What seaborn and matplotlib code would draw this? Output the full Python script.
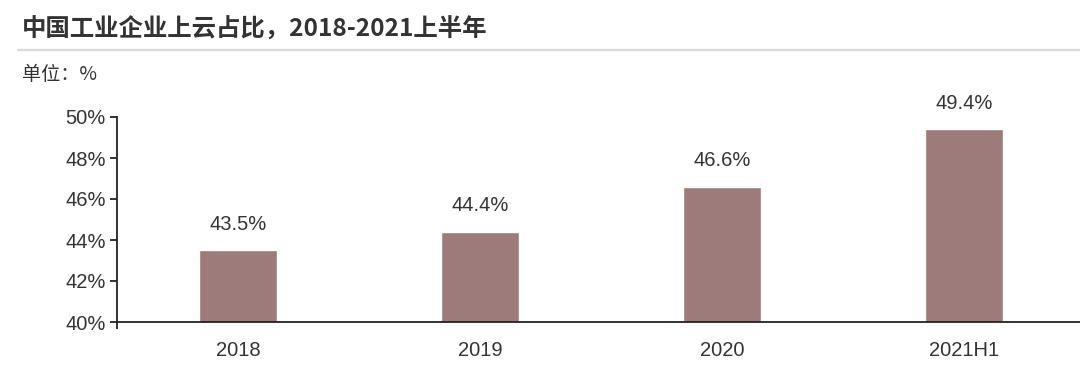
import matplotlib
matplotlib.use("Agg")
import matplotlib.pyplot as plt
import seaborn as sns
import pandas as pd
from matplotlib.ticker import FuncFormatter
from matplotlib.lines import Line2D

categories = ["2018", "2019", "2020", "2021H1"]
values = [43.5, 44.4, 46.6, 49.4]
title = "中国工业企业上云占比，2018-2021上半年"
unit = "单位：%"

sns.set_style("white")
plt.rcParams['font.family'] = ['Liberation Sans', 'Noto Sans CJK SC', 'DejaVu Sans']

df = pd.DataFrame({"year": categories, "share": values})

fig = plt.figure(figsize=(10.8, 3.74), dpi=100)
ax = fig.add_axes([117/1080, 1-322/374, 968/1080, (322-117)/374])
sns.barplot(data=df, x="year", y="share", color="#9d7b7a", saturation=1,
            width=0.32, ax=ax)
ax.set_xlim(-0.5, 3.5)
ax.set_ylim(40, 50)
ax.set_yticks([40, 42, 44, 46, 48, 50])
ax.yaxis.set_major_formatter(FuncFormatter(lambda v, p: f"{v:.0f}%"))
ax.set_xlabel("")
ax.set_ylabel("")
for s in ["top", "right"]:
    ax.spines[s].set_visible(False)
for s in ["left", "bottom"]:
    ax.spines[s].set_color("#222222")
    ax.spines[s].set_linewidth(1.3)
ax.tick_params(axis="y", left=True, length=5, width=1.3, color="#222222",
               labelsize=14.5, labelcolor="#333333", pad=3)
ax.tick_params(axis="x", bottom=False, labelsize=14.5, labelcolor="#333333", pad=10)
ax.set_xticks([-0.5], minor=True)
ax.tick_params(axis="x", which="minor", bottom=True, length=5, width=1.3, color="#222222")

for c in ax.containers:
    ax.bar_label(c, labels=[f"{v:.1f}%" for v in values], padding=12,
                 fontsize=14.5, color="#333333")

fig.text(22/1080, 1-30/374, title, fontsize=17.6, fontweight="bold",
         color="#333333", va="center", ha="left",
         family=['Noto Sans CJK SC', 'DejaVu Sans'])
fig.add_artist(Line2D([18/1080, 1.0], [1-50/374, 1-50/374],
                      transform=fig.transFigure, color="#d9d9d9", linewidth=1.6))
fig.text(22/1080, 1-75/374, unit, fontsize=13.8, color="#333333",
         va="center", ha="left", family=['Noto Sans CJK SC', 'DejaVu Sans'])

fig.savefig("out.png", dpi=100)
